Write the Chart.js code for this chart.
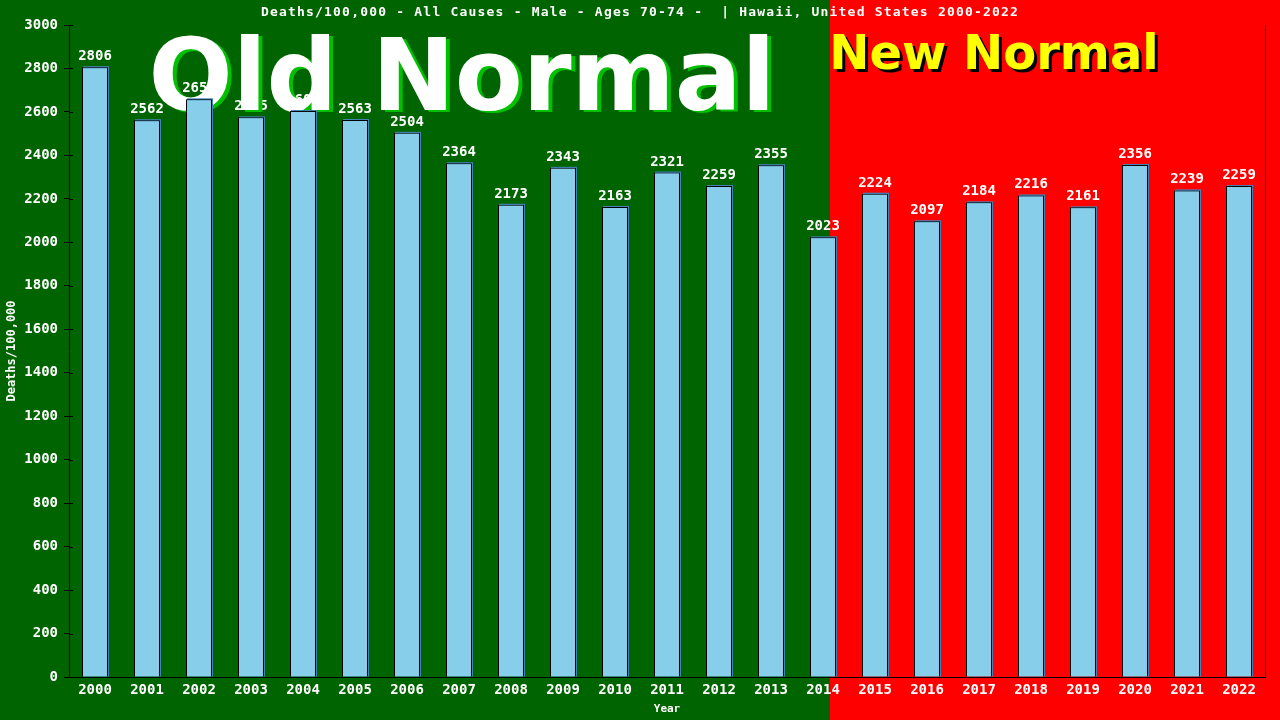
<!DOCTYPE html>
<html>
<head>
<meta charset="utf-8">
<style>
  html, body { margin: 0; padding: 0; background: #006400; }
  #wrap { width: 1280px; height: 720px; }
</style>
<script src="https://cdn.jsdelivr.net/npm/chart.js@4.4.1/dist/chart.umd.min.js"></script>
</head>
<body>
<div id="wrap"><canvas id="c" width="1280" height="720"></canvas></div>
<script>
const years = ['2000','2001','2002','2003','2004','2005','2006','2007','2008','2009','2010','2011','2012','2013','2014','2015','2016','2017','2018','2019','2020','2021','2022'];
const deaths = [2806, 2562, 2658, 2575, 2604, 2563, 2504, 2364, 2173, 2343, 2163, 2321, 2259, 2355, 2023, 2224, 2097, 2184, 2216, 2161, 2356, 2239, 2259];
const titleText = 'Deaths/100,000 - All Causes - Male - Ages 70-74 -  | Hawaii, United States 2000-2022';
const yTitle = 'Deaths/100,000';
const xTitle = 'Year';
const oldLabel = 'Old Normal';
const newLabel = 'New Normal';

const MONO = '"DejaVu Sans Mono", "Liberation Mono", monospace';
const BIG = '"DejaVu Sans", "Liberation Sans", Arial, sans-serif';
const SPLIT_X = 830;

const decor = {
  id: 'decor',
  beforeDraw(chart) {
    const ctx = chart.ctx;
    ctx.save();
    ctx.fillStyle = '#006400';
    ctx.fillRect(0, 0, SPLIT_X, chart.height);
    ctx.fillStyle = '#FF0000';
    ctx.fillRect(SPLIT_X, 0, chart.width - SPLIT_X, chart.height);
    // title
    ctx.fillStyle = '#FFFFFF';
    ctx.font = 'bold 13px ' + MONO;
    ctx.letterSpacing = '1.2px';
    ctx.textAlign = 'center';
    ctx.textBaseline = 'middle';
    ctx.fillText(titleText, 640, 13);
    ctx.restore();
  },
  beforeDatasetsDraw(chart) {
    const ctx = chart.ctx;
    const meta = chart.getDatasetMeta(0);
    ctx.save();
    // value labels
    ctx.fillStyle = '#FFFFFF';
    ctx.font = 'bold 14px ' + MONO;
    ctx.textAlign = 'center';
    ctx.textBaseline = 'alphabetic';
    meta.data.forEach((bar, i) => {
      ctx.fillText(String(deaths[i]), bar.x, bar.y - 7);
    });
    // big texts
    ctx.font = 'bold 99px ' + BIG;
    ctx.textAlign = 'center';
    ctx.fillStyle = '#00C000';
    ctx.fillText(oldLabel, 462 + 4, 110 + 2);
    ctx.fillStyle = '#FFFFFF';
    ctx.fillText(oldLabel, 462, 110);
    ctx.font = 'bold 48px ' + BIG;
    ctx.fillStyle = '#000000';
    ctx.fillText(newLabel, 994 + 3, 69 + 3);
    ctx.fillStyle = '#FFFF00';
    ctx.fillText(newLabel, 994, 69);
    // bar shadows
    ctx.fillStyle = '#4682B4';
    meta.data.forEach((bar) => {
      const w = bar.width;
      ctx.fillRect(bar.x - w / 2 + 1, bar.y - 1, w, bar.base - bar.y + 1);
    });
    ctx.restore();
  },
  afterDraw(chart) {
    const ctx = chart.ctx;
    const a = chart.chartArea;
    const ys = chart.scales.y;
    ctx.save();
    ctx.strokeStyle = '#000000';
    ctx.lineWidth = 1;
    ctx.beginPath();
    ctx.moveTo(Math.round(a.right) + 0.5, a.top);
    ctx.lineTo(Math.round(a.right) + 0.5, a.bottom);
    ys.ticks.forEach((t) => {
      const py = Math.round(ys.getPixelForValue(t.value)) + 0.5;
      ctx.moveTo(a.left, py);
      ctx.lineTo(a.left + 4, py);
    });
    ctx.stroke();
    ctx.restore();
  }
};

new Chart(document.getElementById('c'), {
  type: 'bar',
  data: {
    labels: years,
    datasets: [{
      data: deaths,
      backgroundColor: '#87CEEB',
      borderColor: '#000000',
      borderWidth: 1,
      borderSkipped: 'bottom',
      barPercentage: 0.5,
      categoryPercentage: 1.0
    }]
  },
  options: {
    responsive: false,
    animation: false,
    devicePixelRatio: 1,
    layout: { padding: { top: 25, right: 15, left: 0, bottom: 0 } },
    plugins: {
      legend: { display: false },
      title: { display: false },
      tooltip: { enabled: false }
    },
    scales: {
      x: {
        afterFit(s) { s.height = 43; },
        grid: { display: false, drawTicks: false },
        border: { display: true, color: '#000000', width: 1 },
        ticks: {
          color: '#FFFFFF',
          font: { family: MONO, size: 14, weight: 'bold' },
          padding: 5,
          maxRotation: 0,
          autoSkip: false
        },
        title: {
          display: true,
          text: xTitle,
          color: '#FFFFFF',
          font: { family: MONO, size: 11, weight: 'bold' },
          padding: { top: 0, bottom: 4 }
        }
      },
      y: {
        min: 0,
        max: 3000,
        afterFit(s) { s.width = 69; },
        grid: { display: true, drawOnChartArea: false, drawTicks: true, tickLength: 5, color: '#000000' },
        border: { display: true, color: '#000000', width: 1 },
        ticks: {
          stepSize: 200,
          color: '#FFFFFF',
          font: { family: MONO, size: 14, weight: 'bold' },
          padding: 6,
          callback: (v) => String(v)
        },
        title: {
          display: true,
          text: yTitle,
          color: '#FFFFFF',
          font: { family: MONO, size: 12, weight: 'bold' },
          padding: { top: 5, bottom: 0 }
        }
      }
    }
  },
  plugins: [decor]
});
</script>
</body>
</html>
